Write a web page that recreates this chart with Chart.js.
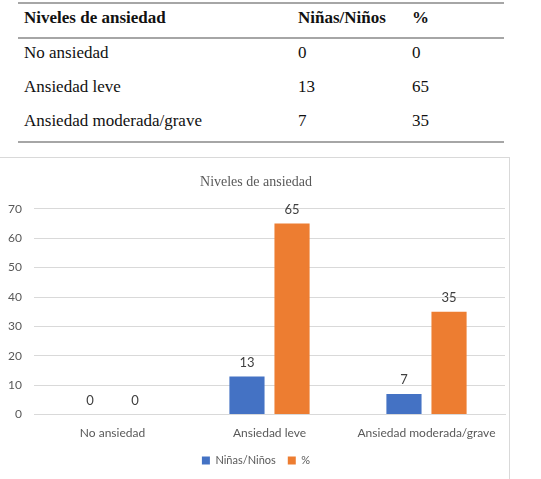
<!DOCTYPE html>
<html>
<head>
<meta charset="utf-8">
<script src="https://cdn.jsdelivr.net/npm/chart.js@4.4.0/dist/chart.umd.min.js"></script>
<style>
  html, body { margin: 0; padding: 0; background: #fff; width: 541px; height: 479px; overflow: hidden; }
  #tabla { position: absolute; left: 18px; top: 2px; width: 486px; border-collapse: collapse;
           font-family: "Liberation Serif", "DejaVu Serif", serif; font-size: 17px; color: #111; }
  #tabla th, #tabla td { text-align: left; padding: 0 0 6px 6px; height: 28px; }
  #tabla th { font-weight: bold; height: 27px; }
  #tabla thead tr { border-top: 2px solid #a6a6a6; border-bottom: 2px solid #a6a6a6; }
  #tabla tbody tr:last-child { border-bottom: 2px solid #a6a6a6; }
  #marco { position: absolute; left: -1px; top: 157px; width: 509px; height: 330px; border: 1px solid #d9d9d9; }
  #wrap { position: absolute; left: 0; top: 0; width: 509px; height: 322px; }
</style>
</head>
<body>
<table id="tabla">
  <thead><tr><th style="width:268px">Niveles de ansiedad</th><th style="width:108px">Niñas/Niños</th><th>%</th></tr></thead>
  <tbody id="cuerpo"></tbody>
</table>
<div id="marco"><div id="wrap"><canvas id="grafico"></canvas></div></div>
<script>
// Datos de la tabla y del gráfico
const niveles = ['No ansiedad', 'Ansiedad leve', 'Ansiedad moderada/grave'];
const ninos = [0, 13, 7];
const porcentaje = [0, 65, 35];
const yTicks = [0, 10, 20, 30, 40, 50, 60, 70];

const cuerpo = document.getElementById('cuerpo');
niveles.forEach((n, i) => {
    const tr = document.createElement('tr');
    [n, ninos[i], porcentaje[i]].forEach(v => {
        const td = document.createElement('td');
        td.textContent = v;
        tr.appendChild(td);
    });
    cuerpo.appendChild(tr);
});

// etiquetas encima de cada barra
const etiquetas = {
    id: 'etiquetas',
    afterDatasetsDraw(chart) {
        const { ctx } = chart;
        ctx.save();
        ctx.font = "13px Lato, sans-serif";
        ctx.fillStyle = '#404040';
        ctx.textAlign = 'center';
        ctx.textBaseline = 'middle';
        chart.data.datasets.forEach((ds, i) => {
            chart.getDatasetMeta(i).data.forEach((bar, j) => {
                ctx.fillText(String(ds.data[j]), bar.x, bar.y - 14);
            });
        });
        ctx.restore();
    }
};

Chart.defaults.font.family = "Lato, sans-serif";
Chart.defaults.color = '#595959';

new Chart(document.getElementById('grafico').getContext('2d'), {
    type: 'bar',
    data: {
        labels: niveles,
        datasets: [
            { label: 'Niñas/Niños', data: ninos, backgroundColor: '#4472C4' },
            { label: '%', data: porcentaje, backgroundColor: '#ED7D31' }
        ]
    },
    options: {
        responsive: true, maintainAspectRatio: false, animation: false,
        categoryPercentage: 0.574, barPercentage: 0.78,
        layout: { padding: { left: 7, right: 4, top: 0, bottom: 4 } },
        scales: {
            y: {
                min: 0, max: 70,
                afterFit: (s) => { s.width = 27; },
                afterBuildTicks: (s) => { s.ticks = yTicks.map(v => ({ value: v })); },
                ticks: { padding: 12, font: { size: 12 }, color: '#595959' },
                grid: { color: '#d9d9d9', drawTicks: false },
                border: { display: false }
            },
            x: {
                ticks: { font: { size: 12 }, color: '#595959', padding: 3 },
                grid: { display: false },
                border: { color: '#d9d9d9' }
            }
        },
        plugins: {
            title: {
                display: true, text: 'Niveles de ansiedad', color: '#595959',
                font: { family: "'Liberation Serif', serif", size: 14, weight: 'normal' },
                padding: { top: 16, bottom: 18 }
            },
            legend: {
                position: 'bottom',
                labels: { boxWidth: 8, boxHeight: 8, padding: 12, font: { size: 11 }, color: '#595959' }
            },
            tooltip: { enabled: false }
        }
    },
    plugins: [etiquetas]
});
</script>
</body>
</html>
